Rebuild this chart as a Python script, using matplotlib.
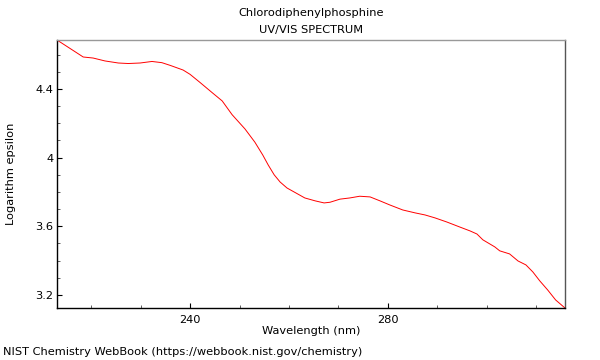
import matplotlib
matplotlib.use("Agg")
import matplotlib.pyplot as plt
from matplotlib.ticker import MultipleLocator

wavelength = [213.1, 218.4, 220.4, 222.8, 225.5, 227.5, 229.9, 232.3, 234.3, 236.0,
              238.6, 240.0, 242.0, 244.4, 246.5, 248.5, 251.1, 253.1, 254.7, 255.8,
              257.0, 258.2, 259.6, 261.4, 263.2, 265.3, 267.1, 268.3, 270.3, 272.3,
              274.3, 276.4, 278.4, 280.4, 283.0, 285.5, 287.5, 289.5, 291.9, 294.5,
              296.6, 298.0, 299.2, 301.6, 302.6, 304.6, 306.3, 307.9, 309.3, 310.7,
              312.3, 313.9, 315.8]
log_eps = [4.685, 4.586, 4.580, 4.563, 4.551, 4.548, 4.551, 4.560, 4.553, 4.537,
           4.510, 4.485, 4.438, 4.380, 4.330, 4.250, 4.167, 4.090, 4.015, 3.957,
           3.900, 3.858, 3.823, 3.794, 3.765, 3.748, 3.736, 3.740, 3.758, 3.765,
           3.775, 3.771, 3.748, 3.724, 3.695, 3.678, 3.666, 3.649, 3.625, 3.596,
           3.573, 3.555, 3.521, 3.480, 3.457, 3.439, 3.398, 3.375, 3.334, 3.282,
           3.229, 3.171, 3.124]

title_lines = ["Chlorodiphenylphosphine", "UV/VIS SPECTRUM"]
x_label = "Wavelength (nm)"
y_label = "Logarithm epsilon"
footer = "NIST Chemistry WebBook (https://webbook.nist.gov/chemistry)"

FS = 8.2
fig = plt.figure(figsize=(6, 3.6), dpi=100)
ax = fig.add_axes([57/600, 1-308/360, (565-57)/600, (308-40)/360])
ax.plot(wavelength, log_eps, color="#ff0000", lw=0.7)
ax.set_xlim(213.1, 315.8)
ax.set_ylim(3.124, 4.685)
ax.xaxis.set_major_locator(MultipleLocator(40))
ax.xaxis.set_minor_locator(MultipleLocator(10))
ax.yaxis.set_major_locator(MultipleLocator(0.4))
ax.yaxis.set_minor_locator(MultipleLocator(0.1))
ax.yaxis.set_major_formatter(plt.FuncFormatter(lambda v, p: ("%.1f" % v).rstrip("0").rstrip(".")))
ax.tick_params(which="both", direction="in", color="black")
ax.tick_params(axis="x", which="major", length=3.6, width=0.8, labelsize=FS, pad=5)
ax.tick_params(axis="y", which="major", length=3.6, width=0.8, labelsize=FS, pad=2.5)
ax.tick_params(which="minor", length=2.2, width=0.6, color="#444444")
ax.spines["top"].set_color("#999999")
ax.spines["right"].set_color("#555555")
for s in ["left", "bottom"]:
    ax.spines[s].set_color("black")
for s in ax.spines.values():
    s.set_linewidth(1.0)
ax.set_xlabel(x_label, fontsize=FS, labelpad=1)
ax.set_ylabel(y_label, fontsize=FS, labelpad=14)
fig.text(311/600, 1-13/360, title_lines[0], ha="center", va="center", fontsize=FS)
fig.text(311/600, 1-30/360, title_lines[1], ha="center", va="center", fontsize=FS)
fig.text(3/600, 1-352/360, footer, ha="left", va="center", fontsize=FS)
fig.savefig("out.png", dpi=100)
